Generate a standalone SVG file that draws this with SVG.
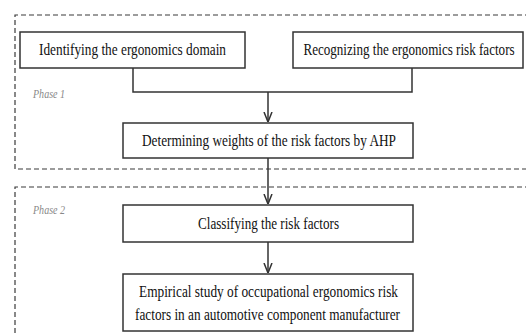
<svg xmlns="http://www.w3.org/2000/svg" width="526" height="334" viewBox="0 0 526 334">
<defs>
<style>
.phase{fill:none;stroke:#3a3a3a;stroke-width:1.2;stroke-dasharray:5,3}
.box{fill:#fff;stroke:#333;stroke-width:1.5}
.t{font-family:"Liberation Serif","Times New Roman",serif;font-size:17px;fill:#111;text-anchor:middle}
.lbl{font-family:"Liberation Serif","Times New Roman",serif;font-size:12px;font-style:italic;fill:#888}
.conn{fill:none;stroke:#333;stroke-width:1.5}
</style>
<marker id="arr" viewBox="0 0 10 10" refX="10" refY="5" markerWidth="10" markerHeight="10" markerUnits="userSpaceOnUse" orient="auto">
<path d="M0,1 L10,5 L0,9" fill="none" stroke="#333" stroke-width="1.5"/>
</marker>
</defs>
<rect width="526" height="334" fill="#fff"/>
<g id="phase1">
<path class="phase" d="M530,15 H15 V169 H530"/>
<text class="lbl" x="33" y="98" textLength="32" lengthAdjust="spacingAndGlyphs">Phase 1</text>
</g>
<g id="phase2">
<path class="phase" d="M530,187 H15 V340"/>
<text class="lbl" x="33" y="214" textLength="32" lengthAdjust="spacingAndGlyphs">Phase 2</text>
</g>
<g id="connectors">
<path class="conn" d="M133,68 V92 H412 V68"/>
<path class="conn" d="M268,92 V122" marker-end="url(#arr)"/>
<path class="conn" d="M268,158 V204" marker-end="url(#arr)"/>
<path class="conn" d="M268,242 V273" marker-end="url(#arr)"/>
</g>
<g id="n1">
<rect class="box" x="20" y="32" width="225" height="36"/>
<text class="t" x="132.5" y="55" textLength="187" lengthAdjust="spacingAndGlyphs">Identifying the ergonomics domain</text>
</g>
<g id="n2">
<rect class="box" x="293" y="32" width="230" height="36"/>
<text class="t" transform="translate(409,55) scale(0.8,1)" x="0" y="0" textLength="264" lengthAdjust="spacingAndGlyphs">Recognizing the ergonomics risk factors</text>
</g>
<g id="n3">
<rect class="box" x="123" y="123" width="290" height="35"/>
<text class="t" x="269" y="146" textLength="254" lengthAdjust="spacingAndGlyphs">Determining weights of the risk factors by AHP</text>
</g>
<g id="n4">
<rect class="box" x="123" y="205" width="290" height="37"/>
<text class="t" x="268.5" y="229" textLength="141" lengthAdjust="spacingAndGlyphs">Classifying the risk factors</text>
</g>
<g id="n5">
<rect class="box" x="123" y="274" width="290" height="57"/>
<text class="t" x="268.5" y="297" textLength="259" lengthAdjust="spacingAndGlyphs">Empirical study of occupational ergonomics risk</text>
<text class="t" x="267.5" y="320" textLength="265" lengthAdjust="spacingAndGlyphs">factors in an automotive component manufacturer</text>
</g>
</svg>
